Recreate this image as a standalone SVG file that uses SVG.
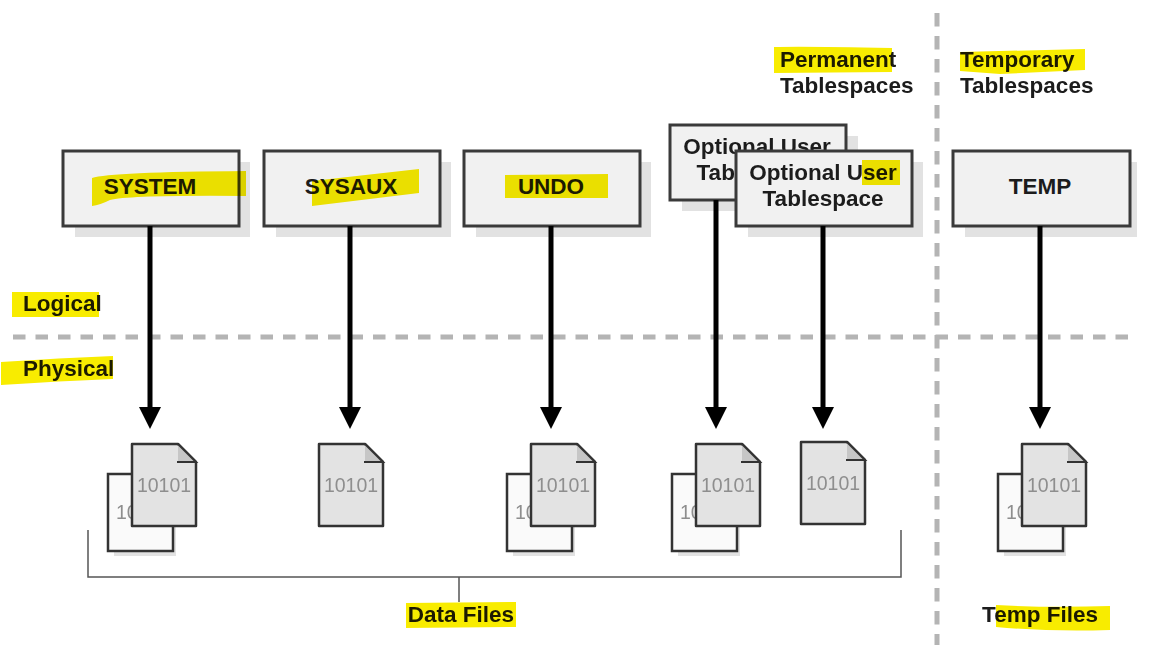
<svg xmlns="http://www.w3.org/2000/svg" xmlns:xlink="http://www.w3.org/1999/xlink" width="1155" height="648" viewBox="0 0 1155 648">
<style>
text{font-family:"Liberation Sans",Arial,sans-serif;font-weight:bold;fill:#1c1c1c;font-size:22.5px}
.m{text-anchor:middle}
.hl{fill:#f8ec00;mix-blend-mode:multiply}
.box{fill:#f1f1f1;stroke:#3a3a3a;stroke-width:3}
.sh{fill:#e2e2e2}
.dash{stroke:#b4b4b4;stroke-width:5;fill:none}
.arr{stroke:#000;stroke-width:5;fill:none;marker-end:url(#ah)}
text.num{font-weight:normal;fill:#8e8e8e;font-size:19.5px}
.back{fill:#fafafa;stroke:#333;stroke-width:2.5}
.front{fill:#e3e3e3;stroke:#333;stroke-width:2.5;stroke-linejoin:round}
.fold{fill:#c6c6c6}
.foldl{fill:none;stroke:#333;stroke-width:2}
</style>
<defs>
<marker id="ah" markerUnits="userSpaceOnUse" markerWidth="24" markerHeight="24" refX="14" refY="12" orient="auto" viewBox="0 0 24 24"><path d="M0 1L22 12L0 23Z" fill="#000"/></marker>
<g id="doc"><path class="front" d="M0 0H46L64 18V82H0Z"/><path class="fold" d="M46 0L64 18H46Z"/><path class="foldl" d="M45 18H64L46 0"/><text class="num" x="32" y="48" text-anchor="middle">10101</text></g>
<g id="docs"><path class="sh" d="M-18 33H44V112H-18Z"/><rect class="back" x="-24" y="30" width="65" height="77"/><text class="num" x="-16" y="75">10</text><use xlink:href="#doc"/></g>
</defs>
<rect width="1155" height="648" fill="#fff"/>
<g id="labels">
<g id="permanent"><text x="780" y="67">Permanent</text><text x="780" y="93">Tablespaces</text><path class="hl" d="M774 47Q800 46 892 48V72L774 73Z"/></g>
<g id="temporary"><text x="960" y="67">Temporary</text><text x="960" y="93">Tablespaces</text><path class="hl" d="M960 52L1085 49V70L1000 74L960 71Z"/></g>
<g id="logical"><text x="23" y="311">Logical</text><rect class="hl" x="12" y="292" width="87" height="25"/></g>
<g id="physical"><text x="23" y="376">Physical</text><path class="hl" d="M1 362Q60 358 113 356V379Q60 381 1 385Z"/></g>
<g id="datafiles"><text class="m" x="461" y="622">Data Files</text><path class="hl" d="M406 603L516 602V627L406 628Z"/></g>
<g id="tempfiles"><text class="m" x="1040" y="622">Temp Files</text><path class="hl" d="M996 605Q1050 608 1110 606V630Q1050 632 996 627Z"/></g>
</g>
<g id="separators">
<path class="dash" d="M13 337H1130" stroke-dasharray="12.5 10"/>
<path class="dash" d="M937 13V645" stroke-dasharray="13.5 9.5"/>
</g>
<g id="node-system"><rect class="sh" x="75" y="162" width="175" height="75"/><rect class="box" x="63" y="151" width="176" height="75"/><text class="m" x="150" y="194">SYSTEM</text><path class="hl" d="M92 178Q110 172 246 171V196Q130 195 110 200Q100 205 92 206Z"/></g>
<g id="node-sysaux"><rect class="sh" x="276" y="162" width="175" height="75"/><rect class="box" x="264" y="151" width="176" height="75"/><text class="m" x="351" y="194">SYSAUX</text><path class="hl" d="M312 181L419 169V193L312 206Z"/></g>
<g id="node-undo"><rect class="sh" x="476" y="162" width="175" height="75"/><rect class="box" x="464" y="151" width="176" height="75"/><text class="m" x="551" y="194">UNDO</text><path class="hl" d="M505 175L608 174V198L505 198Z"/></g>
<g id="node-optional-1"><rect class="sh" x="682" y="136" width="176" height="75"/><rect class="box" x="670" y="125" width="176" height="75"/><text class="m" x="757" y="154">Optional User</text><text class="m" x="757" y="180">Tablespace</text></g>
<g id="node-optional-2"><rect class="sh" x="748" y="162" width="175" height="75"/><rect class="box" x="736" y="151" width="176" height="75"/><text class="m" x="823" y="180">Optional User</text><text class="m" x="823" y="206">Tablespace</text><rect class="hl" x="862" y="160" width="38" height="25"/></g>
<g id="node-temp"><rect class="sh" x="965" y="162" width="172" height="75"/><rect class="box" x="953" y="151" width="177" height="75"/><text class="m" x="1040" y="194">TEMP</text></g>
<g id="connectors">
<path class="arr" d="M150 226V421"/><path class="arr" d="M350 226V421"/><path class="arr" d="M551 226V421"/><path class="arr" d="M716 200V421"/><path class="arr" d="M823 226V421"/><path class="arr" d="M1040 226V421"/>
<path d="M88 530V577H901V530M459 577V602" fill="none" stroke="#555" stroke-width="1.5"/>
</g>
<g id="file-system"><use xlink:href="#docs" x="132" y="444"/></g>
<g id="file-sysaux"><use xlink:href="#doc" x="319" y="444"/></g>
<g id="file-undo"><use xlink:href="#docs" x="531" y="444"/></g>
<g id="file-optional-1"><use xlink:href="#docs" x="696" y="444"/></g>
<g id="file-optional-2"><use xlink:href="#doc" x="801" y="442"/></g>
<g id="file-temp"><use xlink:href="#docs" x="1022" y="444"/></g>
</svg>
